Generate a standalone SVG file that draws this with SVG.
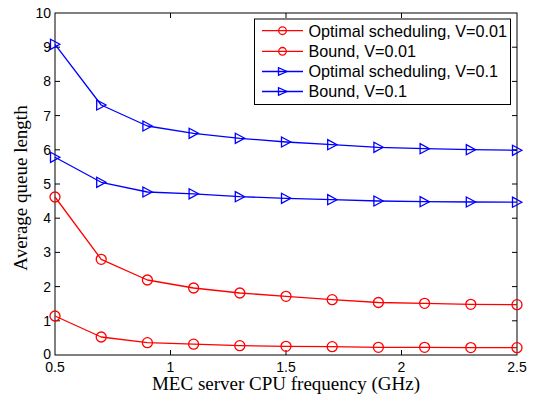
<svg xmlns="http://www.w3.org/2000/svg" xmlns:xlink="http://www.w3.org/1999/xlink" width="537" height="399" viewBox="0 0 537 399">
  <style>
    .axis { fill: none; stroke: #000; stroke-width: 1; }
    .tick { stroke: #000; stroke-width: 1; }
    .tl { font-family: "Liberation Sans", Arial, sans-serif; font-size: 14px; fill: #000; }
    .lbl { font-family: "Liberation Serif", "Times New Roman", serif; font-size: 19px; fill: #000; }
    .leg { font-family: "Liberation Sans", Arial, sans-serif; font-size: 16.2px; fill: #000; }
    .red { fill: none; stroke: #ff0000; stroke-width: 1.3; stroke-linejoin: round; }
    .blue { fill: none; stroke: #0000ff; stroke-width: 1.3; stroke-linejoin: round; }
  </style>
  <defs>
    <circle id="mc" r="5" fill="none" stroke="#ff0000" stroke-width="1.3"/>
    <polygon id="mt" points="-4.5,-5 -4.5,5 4.8,0" fill="none" stroke="#0000ff" stroke-width="1.3" stroke-linejoin="miter"/>
    <circle id="mcs" r="3.8" fill="none" stroke="#ff0000" stroke-width="1.3"/>
    <polygon id="mts" points="-4,-3.8 -4,3.8 4.5,0" fill="none" stroke="#0000ff" stroke-width="1.3"/>
  </defs>
  <rect width="537" height="399" fill="#fff"/>

  <!-- axes box and ticks -->
  <g id="axes">
    <rect class="axis" x="55" y="13" width="462" height="342"/>
    <path class="tick" d="M170.5 355v-5M286 355v-5M401.5 355v-5M170.5 13v5M286 13v5M401.5 13v5"/>
    <path class="tick" d="M55 320.8h5M55 286.6h5M55 252.4h5M55 218.2h5M55 184h5M55 149.8h5M55 115.6h5M55 81.4h5M55 47.2h5M517 320.8h-5M517 286.6h-5M517 252.4h-5M517 218.2h-5M517 184h-5M517 149.8h-5M517 115.6h-5M517 81.4h-5M517 47.2h-5"/>
    <g class="tl" text-anchor="end">
      <text x="51" y="359">0</text>
      <text x="51" y="325.8">1</text>
      <text x="51" y="291.6">2</text>
      <text x="51" y="257.4">3</text>
      <text x="51" y="223.2">4</text>
      <text x="51" y="189">5</text>
      <text x="51" y="154.8">6</text>
      <text x="51" y="120.6">7</text>
      <text x="51" y="86.4">8</text>
      <text x="51" y="52.2">9</text>
      <text x="51" y="18">10</text>
    </g>
    <g class="tl" text-anchor="middle">
      <text x="55" y="371.5">0.5</text>
      <text x="170.5" y="371.5">1</text>
      <text x="286" y="371.5">1.5</text>
      <text x="401.5" y="371.5">2</text>
      <text x="517" y="371.5">2.5</text>
    </g>
    <text class="lbl" x="286" y="389.5" text-anchor="middle">MEC server CPU frequency (GHz)</text>
    <text class="lbl" transform="translate(26.5 188) rotate(-90)" text-anchor="middle">Average queue length</text>
  </g>

  <!-- data series -->
  <g id="series-bound-v01">
    <polyline class="blue" points="55,44.3 101.2,105 147.4,126 193.6,133.3 239.8,138.3 286,142 332.2,144.7 378.4,147.3 424.6,148.7 470.8,149.7 517,150.3"/>
    <use xlink:href="#mt" x="55" y="44.3"/><use xlink:href="#mt" x="101.2" y="105"/><use xlink:href="#mt" x="147.4" y="126"/><use xlink:href="#mt" x="193.6" y="133.3"/><use xlink:href="#mt" x="239.8" y="138.3"/><use xlink:href="#mt" x="286" y="142"/><use xlink:href="#mt" x="332.2" y="144.7"/><use xlink:href="#mt" x="378.4" y="147.3"/><use xlink:href="#mt" x="424.6" y="148.7"/><use xlink:href="#mt" x="470.8" y="149.7"/><use xlink:href="#mt" x="517" y="150.3"/>
  </g>
  <g id="series-opt-v01">
    <polyline class="blue" points="55,157.3 101.2,182.3 147.4,192 193.6,193.8 239.8,196.7 286,198.3 332.2,199.7 378.4,201 424.6,201.7 470.8,202 517,202.2"/>
    <use xlink:href="#mt" x="55" y="157.3"/><use xlink:href="#mt" x="101.2" y="182.3"/><use xlink:href="#mt" x="147.4" y="192"/><use xlink:href="#mt" x="193.6" y="193.8"/><use xlink:href="#mt" x="239.8" y="196.7"/><use xlink:href="#mt" x="286" y="198.3"/><use xlink:href="#mt" x="332.2" y="199.7"/><use xlink:href="#mt" x="378.4" y="201"/><use xlink:href="#mt" x="424.6" y="201.7"/><use xlink:href="#mt" x="470.8" y="202"/><use xlink:href="#mt" x="517" y="202.2"/>
  </g>
  <g id="series-bound-v001">
    <polyline class="red" points="55,197 101.2,259.3 147.4,280 193.6,288 239.8,293 286,296.3 332.2,299.7 378.4,302.5 424.6,303.3 470.8,304.3 517,304.7"/>
    <use xlink:href="#mc" x="55" y="197"/><use xlink:href="#mc" x="101.2" y="259.3"/><use xlink:href="#mc" x="147.4" y="280"/><use xlink:href="#mc" x="193.6" y="288"/><use xlink:href="#mc" x="239.8" y="293"/><use xlink:href="#mc" x="286" y="296.3"/><use xlink:href="#mc" x="332.2" y="299.7"/><use xlink:href="#mc" x="378.4" y="302.5"/><use xlink:href="#mc" x="424.6" y="303.3"/><use xlink:href="#mc" x="470.8" y="304.3"/><use xlink:href="#mc" x="517" y="304.7"/>
  </g>
  <g id="series-opt-v001">
    <polyline class="red" points="55,316 101.2,337 147.4,342.7 193.6,344.2 239.8,345.7 286,346.3 332.2,346.7 378.4,347.3 424.6,347.3 470.8,347.6 517,347.7"/>
    <use xlink:href="#mc" x="55" y="316"/><use xlink:href="#mc" x="101.2" y="337"/><use xlink:href="#mc" x="147.4" y="342.7"/><use xlink:href="#mc" x="193.6" y="344.2"/><use xlink:href="#mc" x="239.8" y="345.7"/><use xlink:href="#mc" x="286" y="346.3"/><use xlink:href="#mc" x="332.2" y="346.7"/><use xlink:href="#mc" x="378.4" y="347.3"/><use xlink:href="#mc" x="424.6" y="347.3"/><use xlink:href="#mc" x="470.8" y="347.6"/><use xlink:href="#mc" x="517" y="347.7"/>
  </g>

  <!-- legend -->
  <g id="legend">
    <rect x="254.5" y="19" width="256" height="85.5" fill="#fff" stroke="#000" stroke-width="1"/>
    <line class="red" x1="262" y1="30.7" x2="303" y2="30.7"/><use xlink:href="#mcs" x="282.5" y="30.7"/>
    <line class="red" x1="262" y1="51.3" x2="303" y2="51.3"/><use xlink:href="#mcs" x="282.5" y="51.3"/>
    <line class="blue" x1="262" y1="71.5" x2="303" y2="71.5"/><use xlink:href="#mts" x="282.5" y="71.5"/>
    <line class="blue" x1="262" y1="91.5" x2="303" y2="91.5"/><use xlink:href="#mts" x="282.5" y="91.5"/>
    <text class="leg" x="308.5" y="36.5">Optimal scheduling, V=0.01</text>
    <text class="leg" x="308.5" y="57">Bound, V=0.01</text>
    <text class="leg" x="308.5" y="77.2">Optimal scheduling, V=0.1</text>
    <text class="leg" x="308.5" y="97.2">Bound, V=0.1</text>
  </g>
</svg>
